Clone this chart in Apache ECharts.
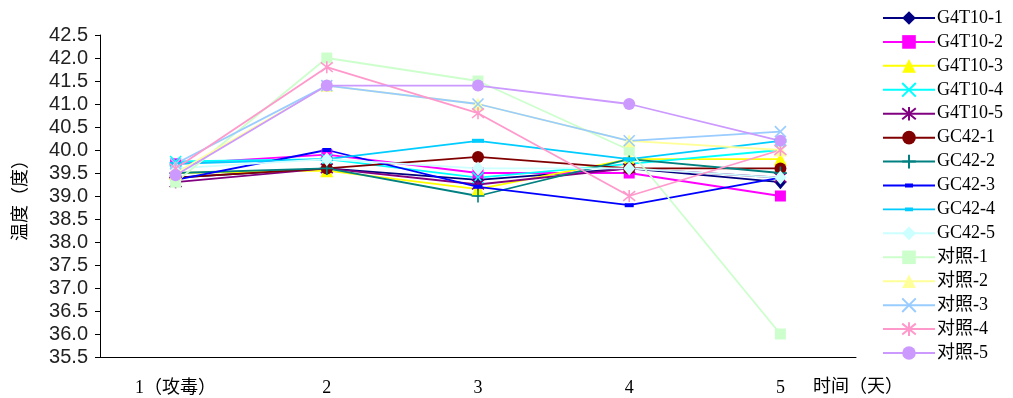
<!DOCTYPE html>
<html>
<head>
<meta charset="utf-8">
<script src="https://cdn.jsdelivr.net/npm/echarts@6/dist/echarts.min.js"></script>
<style>html,body{margin:0;padding:0;background:#fff;}#c{width:1013px;height:398px;}</style>
</head>
<body>
<div id="c"></div>
<script>
var categories = ['1（攻毒）', '2', '3', '4', '5'];
var yTicks = { min: 35.5, max: 42.5, interval: 0.5 };

var s_G4T10_1 = [39.4, 39.6, 39.35, 39.6, 39.3];
var s_G4T10_2 = [39.7, 39.9, 39.5, 39.5, 39.0];
var s_G4T10_3 = [39.5, 39.55, 39.15, 39.8, 39.8];
var s_G4T10_4 = [39.75, 39.8, 39.4, 39.7, 40.0];
var s_G4T10_5 = [39.3, 39.6, 39.25, 39.6, 39.4];
var s_GC42_1 = [39.4, 39.6, 39.85, 39.6, 39.6];
var s_GC42_2 = [39.5, 39.6, 39.0, 39.8, 39.5];
var s_GC42_3 = [39.35, 40.0, 39.2, 38.8, 39.4];
var s_GC42_4 = [39.7, 39.8, 40.2, 39.8, 40.2];
var s_GC42_5 = [39.6, 39.8, 39.6, 39.6, 39.4];
var s_CK_1 = [39.3, 42.0, 41.5, 40.0, 36.0];
var s_CK_2 = [39.5, 41.4, 41.0, 40.2, 40.0];
var s_CK_3 = [39.7, 41.4, 41.0, 40.2, 40.4];
var s_CK_4 = [39.6, 41.8, 40.8, 39.0, 40.0];
var s_CK_5 = [39.45, 41.4, 41.4, 41.0, 40.2];

var SYM_X = 'path://M0,0L10,10M10,0L0,10';
var SYM_STAR = 'path://M5,0L5,10M0,1L10,9M10,1L0,9';
var SYM_PLUS = 'path://M5,0L5,10M0,5L10,5';
// legend icon: full-width line with a short thick dash in the middle (corner specks fix the box)
var DASH_ICON = 'path://M0,0L0.01,0L0,0.01Z M52,17L51.99,17L52,16.99Z M0,7.6L52,7.6L52,9.4L0,9.4Z M22,6.6L30,6.6L30,10.4L22,10.4Z';

var defs = [
  ['G4T10-1', s_G4T10_1, '#000080', 'diamond', [12, 14], false],
  ['G4T10-2', s_G4T10_2, '#FF00FF', 'rect', 11, false],
  ['G4T10-3', s_G4T10_3, '#FFFF00', 'triangle', 13, false],
  ['G4T10-4', s_G4T10_4, '#00FFFF', SYM_X, 11, true],
  ['G4T10-5', s_G4T10_5, '#800080', SYM_STAR, 12, true],
  ['GC42-1', s_GC42_1, '#800000', 'circle', 12, false],
  ['GC42-2', s_GC42_2, '#008080', SYM_PLUS, 13, true],
  ['GC42-3', s_GC42_3, '#0000FF', 'rect', [9, 4], false, DASH_ICON],
  ['GC42-4', s_GC42_4, '#00CCFF', 'rect', [12, 4], false, DASH_ICON],
  ['GC42-5', s_GC42_5, '#CCFFFF', 'diamond', [12, 14], false],
  ['对照-1', s_CK_1, '#CCFFCC', 'rect', 11, false],
  ['对照-2', s_CK_2, '#FFFF99', 'triangle', 13, false],
  ['对照-3', s_CK_3, '#99CCFF', SYM_X, 11, true],
  ['对照-4', s_CK_4, '#FF99CC', SYM_STAR, 12, true],
  ['对照-5', s_CK_5, '#CC99FF', 'circle', 12, false]
];

var series = defs.map(function (d) {
  var it = { color: d[2] };
  if (d[5]) { it.borderColor = d[2]; it.borderWidth = 1.6; }
  return {
    name: d[0], type: 'line', data: d[1],
    symbol: d[3], symbolSize: d[4], showAllSymbol: true,
    lineStyle: { color: d[2], width: 1.8 },
    itemStyle: it,
    emphasis: { disabled: true },
    animation: false
  };
});

var legendData = defs.map(function (d) {
  return d[6] ? { name: d[0], icon: d[6] } : { name: d[0] };
});

var serif = '"Liberation Serif", "Noto Sans CJK SC", serif';

var chart = echarts.init(document.getElementById('c'), null, { renderer: 'canvas' });
chart.setOption({
  animation: false,
  backgroundColor: '#ffffff',
  grid: { left: 100, right: 157, top: 35, bottom: 41, containLabel: false },
  legend: {
    orient: 'vertical', left: 877, top: 4,
    itemWidth: 52, itemHeight: 17, itemGap: 5.93,
    textStyle: { fontFamily: serif, fontSize: 18, color: '#000', lineHeight: 17, padding: [0, 0, 0, -3] },
    data: legendData
  },
  xAxis: {
    type: 'category', data: categories, boundaryGap: true,
    axisLine: { lineStyle: { color: '#000', width: 1 } },
    axisTick: { inside: true, length: 5, lineStyle: { color: '#000' } },
    axisLabel: { margin: 22, color: '#000', fontSize: 18, fontFamily: serif },
    name: '时间（天）', nameLocation: 'end', nameGap: -43,
    nameTextStyle: { color: '#000', fontSize: 18, fontFamily: serif, verticalAlign: 'top', padding: [21, 0, 0, 0] }
  },
  yAxis: {
    type: 'value', min: yTicks.min, max: yTicks.max, interval: yTicks.interval,
    axisLine: { show: true, lineStyle: { color: '#000', width: 1 } },
    axisTick: { show: true, inside: false, length: 5, lineStyle: { color: '#000' } },
    splitLine: { show: false },
    axisLabel: { margin: 12, color: '#222', fontSize: 20, fontFamily: '"Liberation Sans", Arial, sans-serif', formatter: function (v) { return v.toFixed(1); } },
    name: '温度（度）', nameLocation: 'middle', nameRotate: 90, nameGap: 72,
    nameTextStyle: { color: '#000', fontSize: 18, fontFamily: '"Noto Sans CJK SC", serif' }
  },
  series: series
});
</script>
</body>
</html>
